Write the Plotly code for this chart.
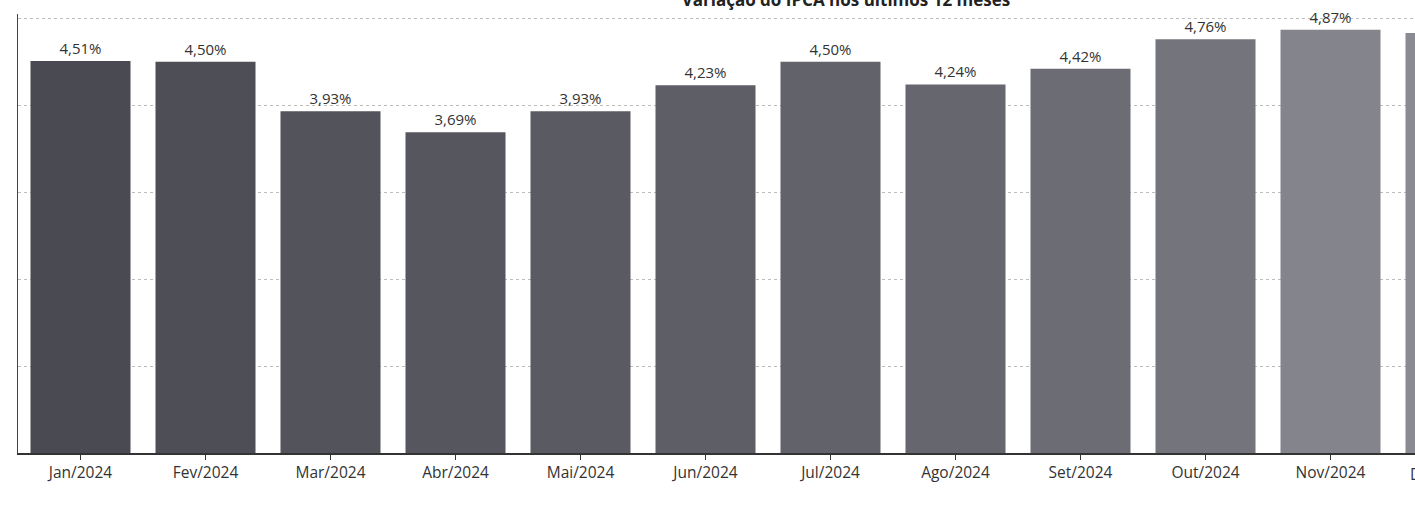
import plotly.graph_objects as go

meses = ["Jan/2024", "Fev/2024", "Mar/2024", "Abr/2024", "Mai/2024", "Jun/2024",
         "Jul/2024", "Ago/2024", "Set/2024", "Out/2024", "Nov/2024", "Dez/2024"]
ipca_12m = [4.51, 4.50, 3.93, 3.69, 3.93, 4.23, 4.50, 4.24, 4.42, 4.76, 4.87, 4.83]
titulo = "Variação do IPCA nos últimos 12 meses"

bar_colors = ["#4a4a52", "#4e4e56", "#53535b", "#56565e", "#5a5a63", "#5e5e66",
              "#62626a", "#66666e", "#6c6c74", "#74747c", "#84848c", "#8a8a92"]

labels = [f"{v:.2f}".replace(".", ",") + "%" for v in ipca_12m]

W, H = 1415, 509
ml, mr, mt, mb = 18, 0, 14, 56
plot_w = W - ml - mr
pitch = 125.0
x_right = -0.5 + plot_w / pitch

fig = go.Figure()
fig.add_trace(go.Bar(
    x=list(range(len(meses))),
    y=ipca_12m,
    marker=dict(color=bar_colors, line=dict(width=0)),
    text=labels,
    textposition="outside",
    textfont=dict(size=15, color="#333333", family="Open Sans"),
    cliponaxis=False,
    width=0.8,
    hoverinfo="skip",
))

fig.update_layout(
    width=W, height=H,
    margin=dict(l=ml, r=mr, t=mt, b=mb),
    paper_bgcolor="white",
    plot_bgcolor="white",
    showlegend=False,
    font=dict(family="Open Sans", size=15, color="#333333"),
    title=dict(
        text=f"<b>{titulo}</b>",
        x=1005 / W, xanchor="right", xref="paper",
        y=1.0, yanchor="middle", yref="container",
        font=dict(size=17, color="#222222", family="Open Sans"),
    ),
    xaxis=dict(
        range=[-0.5, x_right],
        tickmode="array",
        tickvals=list(range(len(meses))),
        ticktext=meses,
        tickson="boundaries",
        ticks="outside",
        ticklen=5,
        tickcolor="#333333",
        showline=True,
        linecolor="#333333",
        linewidth=1.5,
        showgrid=False,
        tickfont=dict(size=15.5, color="#333333"),
    ),
    yaxis=dict(
        range=[0, 5.05],
        tickvals=[0, 1, 2, 3, 4, 5],
        showticklabels=False,
        showgrid=True,
        gridcolor="#bdbdbd",
        griddash="dot",
        gridwidth=1,
        zeroline=False,
        showline=True,
        linecolor="#444444",
        linewidth=1.2,
    ),
    annotations=[dict(
        text=meses[-1],
        xref="paper", yref="paper",
        x=(1408 - ml) / plot_w, y=0,
        xanchor="left", yanchor="top",
        yshift=-8,
        showarrow=False,
        font=dict(size=15.5, color="#333333"),
    )],
)

fig.write_html(
    "out.html",
    config={"displayModeBar": False, "staticPlot": True},
    post_script="document.body.style.margin='0';document.body.style.overflow='hidden';",
)
